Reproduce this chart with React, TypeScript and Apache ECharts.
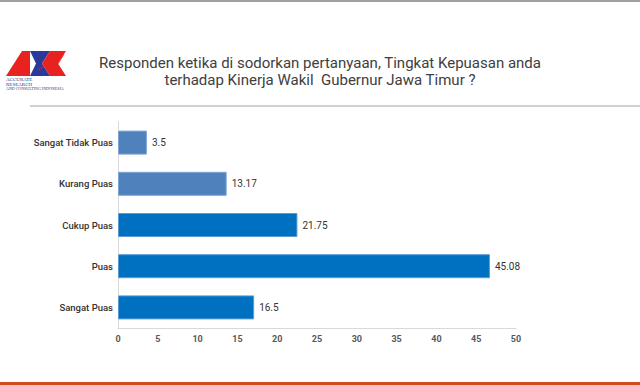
import React, { useEffect, useRef } from "react";
import * as echarts from "echarts";

const categories = ["Sangat Tidak Puas", "Kurang Puas", "Cukup Puas", "Puas", "Sangat Puas"];
const values = [3.5, 13.17, 21.75, 45.08, 16.5];
const barColors = ["#4f81bd", "#4f81bd", "#0070c0", "#0070c0", "#0070c0"];
const tickMin = 0;
const tickMax = 50;
const tickStep = 5;
const titleLines = [
  "Responden ketika di sodorkan pertanyaan, Tingkat Kepuasan anda",
  "terhadap Kinerja Wakil  Gubernur Jawa Timur ?",
];
const logoLines = ["ACCURATE", "RESEARCH", "AND CONSULTING INDONESIA"];

export default function App() {
  const ref = useRef<HTMLDivElement>(null);
  useEffect(() => {
    document.body.style.margin = "0";
    const chart = echarts.init(ref.current!, undefined, { renderer: "svg" });
    const font = "Roboto, 'Noto Sans', sans-serif";
    chart.setOption({
      animation: false,
      backgroundColor: "#ffffff",
      grid: { left: 118, right: 124, top: 122, bottom: 57, containLabel: false },
      xAxis: [
        {
          type: "value",
          min: tickMin,
          max: tickMax,
          interval: tickStep,
          axisLine: { show: true, lineStyle: { color: "#d9d9d9", width: 1 } },
          axisTick: { show: false },
          splitLine: { show: false },
          axisLabel: { fontFamily: font, fontSize: 9, fontWeight: "bold", color: "#595959", margin: 6 },
        },
        {
          type: "value",
          min: 0,
          max: 48.24,
          show: false,
          splitLine: { show: false },
        },
      ],
      yAxis: {
        type: "category",
        inverse: true,
        data: categories,
        axisLine: { show: true, lineStyle: { color: "#d9d9d9", width: 1 } },
        axisTick: { show: false },
        axisLabel: { fontFamily: font, fontSize: 9.5, fontWeight: 500, color: "#333333", margin: 5 },
      },
      series: [
        {
          type: "bar",
          xAxisIndex: 1,
          barWidth: 24,
          data: values.map((v, i) => ({
            value: v,
            itemStyle: {
              color: barColors[i],
              borderColor: i < 2 ? "#7fa3d3" : "#5b9bd5",
              borderWidth: 1,
            },
          })),
          label: {
            show: true,
            position: "right",
            distance: 5,
            fontFamily: font,
            fontSize: 10,
            color: "#333333",
          },
        },
      ],
      graphic: [
        { type: "rect", shape: { x: 0, y: 0, width: 640, height: 2 }, style: { fill: "#a0a0a0" } },
        { type: "rect", shape: { x: 30, y: 105, width: 610, height: 2 }, style: { fill: "#d0d0d0" } },
        { type: "rect", shape: { x: 0, y: 382, width: 640, height: 3 }, style: { fill: "#d24b1c" } },
        ...titleLines.map((t, i) => ({
          type: "text",
          x: 320,
          y: 63 + i * 17,
          style: {
            text: t,
            fontFamily: font,
            fontSize: 15,
            fill: "#404040",
            textAlign: "center",
            textVerticalAlign: "middle",
          },
        })),
        {
          type: "polygon",
          shape: { points: [[6, 76], [22, 51], [30, 51], [30, 76]] },
          style: { fill: "#e8231f" },
        },
        {
          type: "polygon",
          shape: { points: [[30, 51], [50, 51], [42, 63.5], [50, 76], [30, 76], [36, 63.5]] },
          style: { fill: "#2b3a9a" },
        },
        {
          type: "polygon",
          shape: { points: [[50, 51], [66, 51], [58, 63.5], [66, 76], [50, 76], [42, 63.5]] },
          style: { fill: "#e8231f" },
        },
        {
          type: "polyline",
          shape: { points: [[38, 70], [44, 66], [48, 68], [54, 60], [58, 64], [64, 54]] },
          style: { stroke: "#e8231f", lineWidth: 0.8, fill: "none" },
        },
        ...logoLines.map((t, i) => ({
          type: "text",
          x: 6,
          y: 77 + i * 4.6,
          style: {
            text: t,
            fontFamily: "'Liberation Serif', serif",
            fontSize: i < 2 ? 5 : 4,
            fill: "#2b3a7a",
            textVerticalAlign: "top",
          },
        })),
      ],
    });
    return () => chart.dispose();
  }, []);
  return <div ref={ref} style={{ width: 640, height: 385, position: "absolute", left: 0, top: 0 }} />;
}
